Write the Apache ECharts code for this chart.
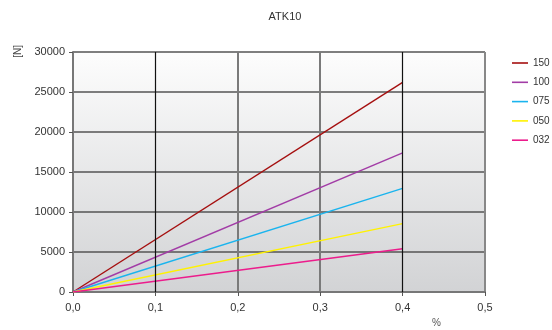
<!DOCTYPE html>
<html><head><meta charset="utf-8">
<script src="https://cdn.jsdelivr.net/npm/echarts@6/dist/echarts.min.js"></script>
<style>html,body{margin:0;padding:0;background:#fff}#c{width:552px;height:330px}</style>
</head><body><div id="c"></div>
<script>
const seriesNames = ['150', '100', '075', '050', '032'];
const seriesColors = ['#a50f0f', '#a23ca6', '#1ab4ee', '#fff200', '#ec1c8c'];
const strainX = [0, 0.4];
const forces = {
  '150': [0, 26200],
  '100': [0, 17400],
  '075': [0, 12950],
  '050': [0, 8550],
  '032': [0, 5400]
};
const xTicks = [0, 0.1, 0.2, 0.3, 0.4, 0.5];
const yTicks = [0, 5000, 10000, 15000, 20000, 25000, 30000];
const darkGridX = [0.1, 0.4];

const chart = echarts.init(document.getElementById('c'));
const font = 'Liberation Sans, Arial, sans-serif';
chart.setOption({
  animation: false,
  title: { text: 'ATK10', left: 280, top: 6, textAlign: 'center',
    textStyle: { fontSize: 11, fontWeight: 'normal', color: '#333', fontFamily: font } },
  legend: {
    orient: 'vertical', left: 512, top: 58, padding: 0, itemGap: 9.3, itemWidth: 16, itemHeight: 10,
    icon: 'path://M0,4 L20,4 L20,6 L0,6 Z',
    textStyle: { fontSize: 10, color: '#333', fontFamily: font },
    data: seriesNames
  },
  graphic: [
    { type: 'text', left: 13, top: 45, rotation: Math.PI / 2,
      style: { text: '[N]', fontSize: 10, fill: '#444', fontFamily: font } },
    { type: 'text', left: 432, top: 318,
      style: { text: '%', fontSize: 10, fill: '#555', fontFamily: font } }
  ],
  grid: { left: 73, right: 67, top: 52, bottom: 38, show: true, borderWidth: 0,
    backgroundColor: { type: 'linear', x: 0, y: 0, x2: 0, y2: 1,
      colorStops: [{ offset: 0, color: '#fdfdfd' }, { offset: 1, color: '#d2d3d5' }] } },
  xAxis: {
    type: 'value', min: 0, max: 0.5, interval: 0.1,
    axisLine: { show: true, onZero: false, lineStyle: { color: '#777', width: 2 } },
    axisTick: { show: true, length: 4, lineStyle: { color: '#555' } },
    axisLabel: { fontSize: 11, color: '#333', fontFamily: font, margin: 10,
      formatter: v => v.toFixed(1).replace('.', ',') },
    splitLine: { show: true, showMinLine: false,
      lineStyle: { color: ['rgba(0,0,0,0)', '#7a7a7a', '#7a7a7a', 'rgba(0,0,0,0)', '#888'], width: 2 } }
  },
  yAxis: {
    type: 'value', min: 0, max: 30000, interval: 5000,
    axisLine: { show: true, lineStyle: { color: '#777', width: 2 } },
    axisTick: { show: true, length: 4, lineStyle: { color: '#555' } },
    axisLabel: { fontSize: 11, color: '#333', fontFamily: font, margin: 8,
      formatter: v => String(v) },
    splitLine: { show: true, lineStyle: { color: '#555', width: 1.6 } }
  },
  series: [{
    type: 'line', data: [], silent: true, z: 2,
    markLine: { silent: true, symbol: 'none', label: { show: false }, animation: false,
      lineStyle: { color: '#111', width: 1.2, type: 'solid' },
      data: darkGridX.map(x => ({ xAxis: x })) }
  }].concat(seriesNames.map((n, i) => ({
    name: n, type: 'line', symbol: 'none', smooth: false,
    data: strainX.map((x, j) => [x, forces[n][j]]),
    lineStyle: { color: seriesColors[i], width: 1.4 },
    itemStyle: { color: seriesColors[i] },
    z: 3
  })))
});
</script></body></html>
